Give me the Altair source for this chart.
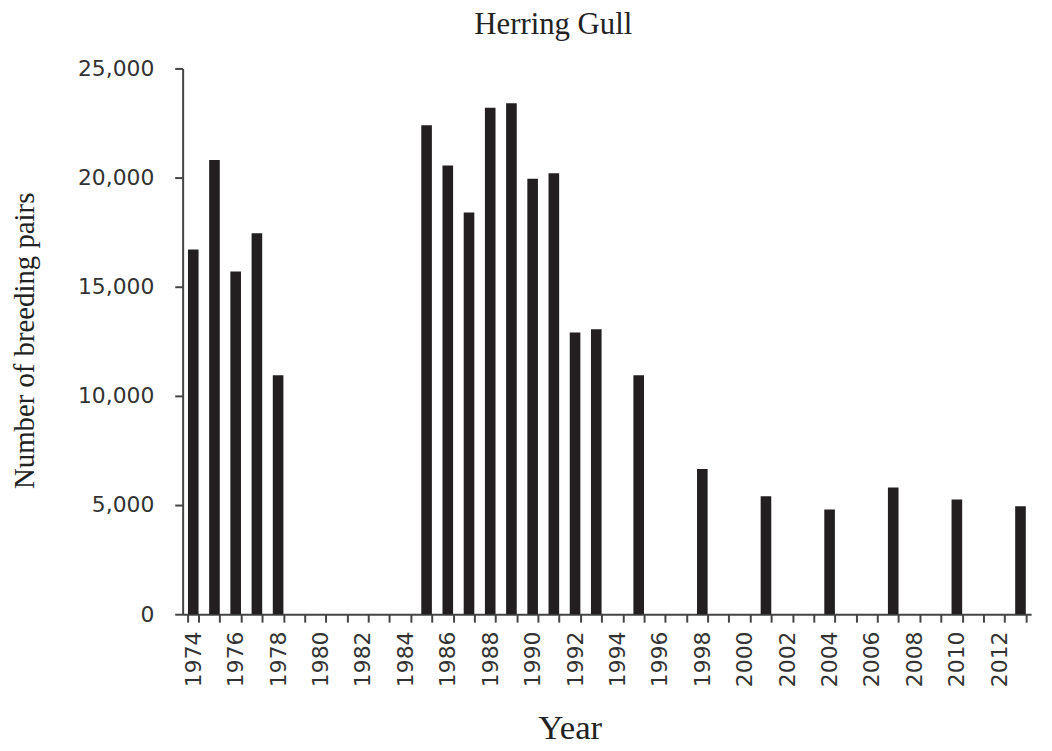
import altair as alt
import pandas as pd

all_years = list(range(1974, 2014))
years = [1974, 1975, 1976, 1977, 1978,
         1985, 1986, 1987, 1988, 1989, 1990, 1991, 1992, 1993,
         1995, 1998, 2001, 2004, 2007, 2010, 2013]
pairs = [16700, 20800, 15700, 17450, 10950,
         22400, 20550, 18400, 23200, 23400, 19950, 20200, 12900, 13050,
         10950, 6650, 5400, 4800, 5800, 5250, 4950]

df = pd.DataFrame({"Year": years, "Pairs": pairs})

serif = "Liberation Serif"
sans = "DejaVu Sans"

chart = alt.Chart(df).mark_bar(color="#231f20").encode(
    x=alt.X("Year:O",
            scale=alt.Scale(domain=all_years, paddingInner=0.5, paddingOuter=0.25),
            axis=alt.Axis(title="Year", labelAngle=-90, labelAlign="right",
                          labelBaseline="middle", labelPadding=9,
                          labelExpr="datum.value % 2 == 0 ? datum.label : ''",
                          tickBand="extent", tickSize=8, labelFontSize=22,
                          labelFont=sans, labelColor="#333333",
                          titleFont=serif, titleFontSize=35, titleFontWeight="normal",
                          titleColor="#222222", titleX=390, titleY=125,
                          titleAlign="center", titleBaseline="alphabetic",
                          domainColor="#444444", tickColor="#444444",
                          domainWidth=2, tickWidth=2, labelOverlap=False)),
    y=alt.Y("Pairs:Q",
            scale=alt.Scale(domain=[0, 25000]),
            axis=alt.Axis(title="Number of breeding pairs", values=[0, 5000, 10000, 15000, 20000, 25000],
                          format=",d", grid=False, tickSize=8, labelPadding=21,
                          labelFontSize=22, labelFont=sans, labelColor="#333333",
                          titleFont=serif, titleFontSize=29, titleFontWeight="normal",
                          titleColor="#222222", titleX=-150, titleY=274, titleAngle=-90,
                          titleAlign="center", titleBaseline="alphabetic",
                          domainColor="#444444", tickColor="#444444",
                          domainWidth=2, tickWidth=2)),
).properties(
    width=855, height=550,
    title=alt.TitleParams("Herring Gull", font=serif, fontSize=31, fontWeight="normal",
                          color="#222222", anchor="middle", dx=-54, offset=17),
    autosize=alt.AutoSizeParams(type="none"),
    padding={"left": 176, "top": 58, "right": 13, "bottom": 140},
).configure_view(stroke=None)

chart.save("out.html", embed_options={"renderer": "svg", "actions": False})
